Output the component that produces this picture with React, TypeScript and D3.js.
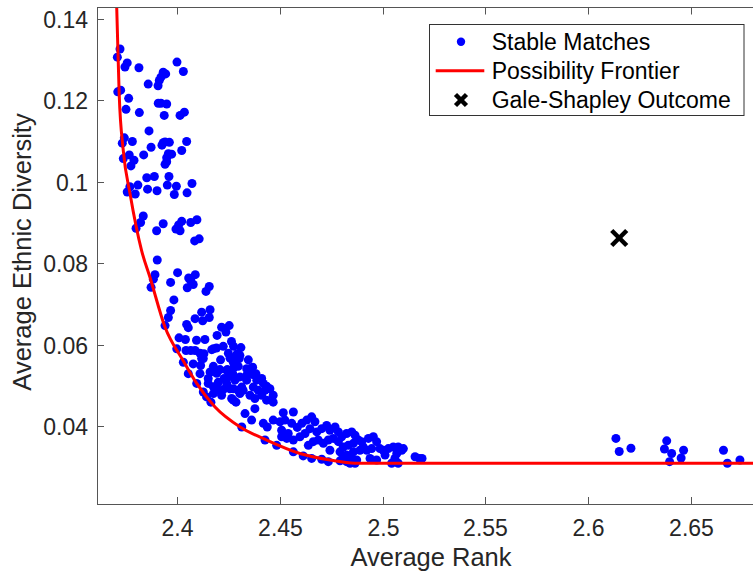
import * as d3 from 'd3'

const W = 753, H = 578
const PLOT = { left: 97, top: 7.5, right: 765, bottom: 504 }
const FONT = '"Liberation Sans", Arial, Helvetica, sans-serif'

// Stable matches as [average rank, average ethnic diversity]
const upperCluster: [number, number][] = [
  [2.3723,0.1326],[2.3710,0.1306],[2.3758,0.1292],[2.3747,0.1282],[2.3815,0.1280],[2.4000,0.1294],[2.4031,0.1271],[2.3933,0.1269],
  [2.3945,0.1265],[2.3922,0.1257],[2.3914,0.1249],[2.3860,0.1240],[2.3908,0.1236],[2.3726,0.1225],[2.3712,0.1221],[2.3765,0.1205],
  [2.3909,0.1193],[2.3922,0.1193],[2.3950,0.1191],[2.3752,0.1178],[2.3817,0.1170],[2.3938,0.1163],[2.4036,0.1171],[2.4015,0.1163],
  [2.3864,0.1125],[2.3744,0.1108],[2.3734,0.1095],[2.3783,0.1099],[2.3874,0.1085],[2.3933,0.1096],[2.3942,0.1098],[2.3963,0.1097],
  [2.3927,0.1090],[2.4047,0.1099],[2.4023,0.1077],[2.3739,0.1057],[2.3768,0.1066],[2.3791,0.1053],[2.3776,0.1039],[2.3838,0.1066],
  [2.3958,0.1069],[2.3974,0.1068],[2.3950,0.1059],[2.3950,0.1049],[2.3942,0.1043],[2.3853,0.1010],[2.3890,0.1013],[2.3961,0.1013],
  [2.3771,0.0988],[2.3758,0.0975],[2.3810,0.0992],[2.3797,0.0970],[2.3857,0.0982],[2.3903,0.0978],[2.3953,0.0992],[2.3997,0.0989],
  [2.3987,0.0969],[2.4073,0.0996],[2.4049,0.0973],[2.3836,0.0916],[2.3823,0.0900],[2.3801,0.0886],[2.3933,0.0897],[2.3901,0.0880],
  [2.4023,0.0903],[2.4008,0.0894],[2.3995,0.0884],[2.4015,0.0880],[2.4097,0.0907],[2.4067,0.0900],[2.4108,0.0860],[2.4086,0.0855],
]

const middleCluster: [number, number][] = [
  [2.3904,0.0808],[2.3893,0.0772],[2.3885,0.0761],[2.3874,0.0741],[2.4003,0.0777],[2.3969,0.0753],[2.4057,0.0764],[2.4067,0.0757],
  [2.4089,0.0772],[2.4079,0.0748],[2.4050,0.0740],[2.4141,0.0731],[2.4157,0.0743],[2.3985,0.0710],[2.3969,0.0684],[2.3958,0.0667],
  [2.3942,0.0647],[2.4088,0.0664],[2.4120,0.0680],[2.4125,0.0659],[2.4161,0.0686],[2.4157,0.0667],[2.4047,0.0650],[2.4055,0.0642],
  [2.4010,0.0617],[2.4041,0.0613],[2.3999,0.0590],[2.4031,0.0557],[2.4067,0.0586],[2.4095,0.0611],[2.4136,0.0613],[2.4088,0.0586],
  [2.4112,0.0579],[2.4128,0.0566],[2.4079,0.0553],[2.4115,0.0549],[2.4177,0.0590],[2.4217,0.0643],[2.4254,0.0647],[2.4238,0.0631],
  [2.4195,0.0623],[2.4265,0.0608],[2.4275,0.0596],[2.4311,0.0593],[2.4306,0.0574],[2.4169,0.0588],[2.4192,0.0592],[2.4225,0.0596],
  [2.4250,0.0579],[2.4258,0.0567],[2.4274,0.0557],[2.4298,0.0547],[2.4347,0.0563],[2.4355,0.0541],[2.4120,0.0566],[2.4177,0.0547],
  [2.4212,0.0563],[2.4209,0.0539],[2.4044,0.0586],[2.4131,0.0578],
]

const lowerCluster: [number, number][] = [
  [2.4055,0.0529],[2.4112,0.0529],[2.4161,0.0533],[2.4152,0.0517],[2.4193,0.0530],[2.4242,0.0537],[2.4250,0.0521],[2.4282,0.0513],
  [2.4229,0.0517],[2.4096,0.0505],[2.4152,0.0505],[2.4201,0.0508],[2.4242,0.0505],[2.4201,0.0488],[2.4177,0.0480],[2.4217,0.0476],
  [2.4274,0.0492],[2.4306,0.0480],[2.4128,0.0484],[2.4144,0.0472],[2.4165,0.0459],[2.4274,0.0464],[2.4287,0.0459],[2.4258,0.0492],
  [2.4298,0.0488],[2.4266,0.0468],[2.4368,0.0527],[2.4388,0.0513],[2.4412,0.0517],[2.4420,0.0505],[2.4436,0.0498],[2.4452,0.0492],
  [2.4468,0.0476],[2.4428,0.0488],[2.4395,0.0488],[2.4371,0.0496],[2.4339,0.0513],[2.4322,0.0488],[2.4355,0.0476],[2.4412,0.0476],
  [2.4306,0.0521],[2.4339,0.0525],[2.4315,0.0496],[2.4468,0.0459],[2.4436,0.0464],[2.4379,0.0468],[2.4339,0.0541],[2.4368,0.0545],
  [2.4384,0.0529],[2.4266,0.0568],[2.4293,0.0578],[2.4303,0.0566],[2.4245,0.0539],[2.4277,0.0544],[2.4271,0.0529],[2.4177,0.0497],
  [2.4225,0.0490],
]

const bottomCluster: [number, number][] = [
  [2.4331,0.0431],[2.4363,0.0415],[2.4379,0.0443],[2.4315,0.0398],[2.4420,0.0407],[2.4439,0.0398],[2.4468,0.0415],[2.4517,0.0433],
  [2.4525,0.0415],[2.4566,0.0435],[2.4558,0.0407],[2.4509,0.0390],[2.4541,0.0382],[2.4585,0.0397],[2.4607,0.0407],[2.4631,0.0415],
  [2.4655,0.0423],[2.4671,0.0411],[2.4647,0.0394],[2.4623,0.0382],[2.4598,0.0374],[2.4566,0.0366],[2.4534,0.0370],[2.4509,0.0374],
  [2.4501,0.0411],[2.4680,0.0386],[2.4704,0.0394],[2.4728,0.0402],[2.4744,0.0390],[2.4769,0.0398],[2.4785,0.0386],[2.4801,0.0374],
  [2.4825,0.0382],[2.4850,0.0386],[2.4866,0.0378],[2.4882,0.0366],[2.4858,0.0358],[2.4833,0.0353],[2.4809,0.0349],[2.4785,0.0362],
  [2.4760,0.0370],[2.4736,0.0366],[2.4712,0.0358],[2.4687,0.0366],[2.4663,0.0362],[2.4639,0.0353],[2.4744,0.0341],[2.4793,0.0337],
  [2.4825,0.0329],[2.4842,0.0317],[2.4825,0.0313],[2.4428,0.0366],[2.4485,0.0353],[2.4566,0.0337],[2.4614,0.0327],[2.4655,0.0321],
  [2.4704,0.0319],[2.4736,0.0313],[2.4793,0.0315],[2.4898,0.0362],[2.4906,0.0349],[2.4931,0.0370],[2.4955,0.0374],[2.4971,0.0362],
  [2.4947,0.0345],[2.4923,0.0341],[2.4890,0.0341],[2.4858,0.0337],[2.4809,0.0325],[2.4850,0.0321],[2.4874,0.0317],[2.4987,0.0345],
  [2.5003,0.0341],[2.5028,0.0345],[2.5052,0.0349],[2.5076,0.0349],[2.5093,0.0341],[2.5069,0.0333],[2.5060,0.0321],[2.5076,0.0309],
  [2.5044,0.0309],[2.5012,0.0329],[2.5158,0.0325],[2.5179,0.0321],[2.5192,0.0321],[2.4842,0.0309],[2.4866,0.0309],[2.4939,0.0321],
  [2.4971,0.0317],[2.5101,0.0345],
]

const tailCluster: [number, number][] = [
  [2.6135,0.0370],[2.6151,0.0338],[2.6208,0.0346],[2.6382,0.0364],[2.6371,0.0344],[2.6406,0.0333],
  [2.6396,0.0313],[2.6464,0.0341],[2.6452,0.0322],[2.6658,0.0341],[2.6677,0.0309],[2.6738,0.0317],
]

// Possibility frontier
const frontierRank = [2.3702, 2.3707, 2.3719, 2.3739, 2.3772, 2.3828, 2.3869, 2.3942, 2.4029, 2.4096, 2.4185, 2.4307, 2.4436, 2.4598, 2.4744, 2.4866, 2.69]
const frontierDiversity = [0.150, 0.1426, 0.1214, 0.1076, 0.0970, 0.0831, 0.0765, 0.0643, 0.0562, 0.0505, 0.0447, 0.0398, 0.0366, 0.0333, 0.0317, 0.0309, 0.0309]

const galeShapley: [number, number] = [2.6151, 0.0862]

const xTicks = [2.4, 2.45, 2.5, 2.55, 2.6, 2.65]
const xTickLabels = ['2.4', '2.45', '2.5', '2.55', '2.6', '2.65']
const yTicks = [0.04, 0.06, 0.08, 0.1, 0.12, 0.14]
const yTickLabels = ['0.04', '0.06', '0.08', '0.1', '0.12', '0.14']

const legendLabels = ['Stable Matches', 'Possibility Frontier', 'Gale-Shapley Outcome']

function Cross({ cx, cy, h, w }: { cx: number, cy: number, h: number, w: number }) {
  return (
    <g stroke="#000" strokeWidth={w}>
      <line x1={cx - h} y1={cy - h} x2={cx + h} y2={cy + h} />
      <line x1={cx - h} y1={cy + h} x2={cx + h} y2={cy - h} />
    </g>
  )
}

export default function App() {
  const x = d3.scaleLinear().domain([2.3611, 2.686]).range([PLOT.left, PLOT.right])
  const y = d3.scaleLinear().domain([0.0209, 0.1428]).range([PLOT.bottom, PLOT.top])

  const points = [...upperCluster, ...middleCluster, ...lowerCluster, ...bottomCluster, ...tailCluster]

  const frontier = d3.line<number>()
    .x((_, i) => x(frontierRank[i]))
    .y((_, i) => y(frontierDiversity[i]))
    .curve(d3.curveMonotoneX)(frontierRank.map((_, i) => i)) || ''

  const axisColor = '#555'
  const textColor = '#262626'
  const tickLen = 7

  // legend layout
  const lg = { x: 429.5, y: 24.5, w: 314.5, h: 91, textX: 491.7, markX: 461, rows: [41.7, 70.7, 100] }

  return (
    <svg width={W} height={H} viewBox={`0 0 ${W} ${H}`}
      style={{ position: 'absolute', left: 0, top: 0, background: '#fff', fontFamily: FONT }}>
      <defs>
        <clipPath id="plot-clip">
          <rect x={PLOT.left} y={PLOT.top} width={PLOT.right - PLOT.left} height={PLOT.bottom - PLOT.top} />
        </clipPath>
      </defs>
      <rect width={W} height={H} fill="#fff" />

      <g clipPath="url(#plot-clip)">
        {points.map((p, i) => (
          <circle key={i} cx={x(p[0])} cy={y(p[1])} r={4.5} fill="#0000ff" />
        ))}
        <path d={frontier} fill="none" stroke="#ff0000" strokeWidth={3} />
        <Cross cx={x(galeShapley[0])} cy={y(galeShapley[1])} h={7.5} w={4.5} />
      </g>

      {/* axes box */}
      <line x1={PLOT.left} y1={PLOT.bottom + 0.5} x2={W} y2={PLOT.bottom + 0.5} stroke={axisColor} />
      <line x1={PLOT.left} y1={PLOT.top} x2={W} y2={PLOT.top} stroke={axisColor} />
      <line x1={PLOT.left + 0.5} y1={PLOT.top} x2={PLOT.left + 0.5} y2={PLOT.bottom + 0.5} stroke={axisColor} />

      {xTicks.map((t, i) => {
        const px = Math.round(x(t)) + 0.5
        return (
          <g key={'x' + i}>
            <line x1={px} x2={px} y1={PLOT.bottom} y2={PLOT.bottom - tickLen} stroke={axisColor} />
            <line x1={px} x2={px} y1={PLOT.top} y2={PLOT.top + tickLen} stroke={axisColor} />
            <text x={px} y={536} textAnchor="middle" fontSize={23} fill={textColor}>{xTickLabels[i]}</text>
          </g>
        )
      })}
      {yTicks.map((t, i) => {
        const py = Math.round(y(t)) + 0.5
        return (
          <g key={'y' + i}>
            <line x1={PLOT.left} x2={PLOT.left + tickLen} y1={py} y2={py} stroke={axisColor} />
            <text x={88} y={py + 8.2} textAnchor="end" fontSize={23} fill={textColor}>{yTickLabels[i]}</text>
          </g>
        )
      })}

      <text x={431} y={565.5} textAnchor="middle" fontSize={25.5} fill={textColor}>Average Rank</text>
      <text transform="translate(31,252) rotate(-90)" textAnchor="middle" fontSize={25.5} fill={textColor}>
        Average Ethnic Diversity
      </text>

      {/* legend */}
      <rect x={lg.x} y={lg.y} width={lg.w} height={lg.h} fill="#fff" stroke="#333" strokeWidth={1} />
      <circle cx={lg.markX} cy={lg.rows[0]} r={4.2} fill="#0000ff" />
      <line x1={435.7} x2={484.3} y1={lg.rows[1]} y2={lg.rows[1]} stroke="#ff0000" strokeWidth={3} />
      <Cross cx={lg.markX} cy={lg.rows[2]} h={5.5} w={4.5} />
      {legendLabels.map((l, i) => (
        <text key={l} x={lg.textX} y={lg.rows[i] + 8.2} fontSize={23} fill="#000">{l}</text>
      ))}
    </svg>
  )
}
